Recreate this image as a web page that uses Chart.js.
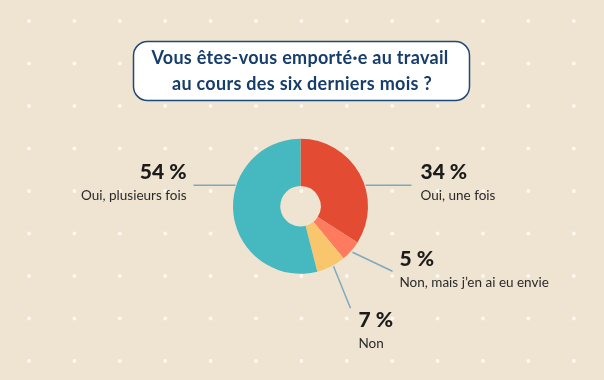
<!DOCTYPE html>
<html>
<head>
<meta charset="utf-8">
<script src="https://cdn.jsdelivr.net/npm/chart.js@4.4.1/dist/chart.umd.min.js"></script>
<style>
  html, body { margin: 0; padding: 0; background: #efe3d1; }
  #wrap { width: 604px; height: 380px; position: relative; }
</style>
</head>
<body>
<div id="wrap"><canvas id="chart" width="604" height="380"></canvas></div>
<script>
// data, clockwise from the top
const categories = ["Oui, une fois", "Non, mais j\u2019en ai eu envie", "Non", "Oui, plusieurs fois"];
const values = [34, 5, 7, 54];
const valueLabels = ["34 %", "5 %", "7 %", "54 %"];
const colors = ["#e34b33", "#ff7b5f", "#f9c66e", "#46b8bf"];
const titleLines = ["Vous \u00eates-vous emport\u00e9\u00b7e au travail", "au cours des six derniers mois ?"];

const FONT = "Lato, 'Noto Sans', sans-serif";

// background dots + title box, drawn before the doughnut
const backdrop = {
    id: 'backdrop',
    beforeDraw(chart) {
        const ctx = chart.ctx;
        ctx.save();
        ctx.fillStyle = '#efe3d1';
        ctx.fillRect(0, 0, chart.width, chart.height);
        ctx.fillStyle = '#fbf7f1';
        for (let i = 0; i < 13; i++) {
            for (let j = 0; j < 9; j++) {
                ctx.beginPath();
                ctx.arc(29 + i * 45.4, 21 + j * 42.5, 2, 0, Math.PI * 2);
                ctx.fill();
            }
        }
        // title box
        ctx.beginPath();
        ctx.roundRect(133.5, 41.5, 336, 59, 14);
        ctx.fillStyle = '#ffffff';
        ctx.fill();
        ctx.lineWidth = 1.5;
        ctx.strokeStyle = '#1d4a78';
        ctx.stroke();
        ctx.fillStyle = '#163d6b';
        ctx.font = 'bold 18px ' + FONT;
        ctx.letterSpacing = '0.3px';
        ctx.textAlign = 'center';
        ctx.textBaseline = 'middle';
        ctx.fillText(titleLines[0], 300, 58);
        ctx.fillText(titleLines[1], 302, 84);
        ctx.restore();
    }
};

// leader lines and labels, offsets relative to the doughnut centre
const callouts = {
    id: 'callouts',
    afterDraw(chart) {
        const ctx = chart.ctx;
        const arc = chart.getDatasetMeta(0).data[0];
        const cx = arc.x, cy = arc.y;
        const spots = [
            { line: [[65, -21], [111, -21]], x: 120, y: -34, align: 'left' },
            { line: [[52, 46], [92, 65]], x: 99, y: 53, align: 'left' },
            { line: [[33, 60], [50, 102]], x: 58, y: 114, align: 'left' },
            { line: [[-65, -21], [-107, -21]], x: -114, y: -34, align: 'right' }
        ];
        ctx.save();
        ctx.strokeStyle = '#7eaabc';
        ctx.lineWidth = 1.5;
        spots.forEach(function (s, i) {
            ctx.beginPath();
            ctx.moveTo(cx + s.line[0][0], cy + s.line[0][1]);
            ctx.lineTo(cx + s.line[1][0], cy + s.line[1][1]);
            ctx.stroke();
            ctx.textAlign = s.align;
            ctx.textBaseline = 'middle';
            ctx.fillStyle = '#1b1b1b';
            ctx.font = '900 21px ' + FONT;
            ctx.fillText(valueLabels[i], cx + s.x, cy + s.y);
            ctx.fillStyle = '#2a2a2a';
            ctx.font = '13.5px ' + FONT;
            ctx.fillText(categories[i], cx + s.x, cy + s.y + 23);
        });
        ctx.restore();
    }
};

new Chart(document.getElementById('chart'), {
    type: 'doughnut',
    data: {
        labels: categories,
        datasets: [{
            data: values,
            backgroundColor: colors,
            borderWidth: 0
        }]
    },
    options: {
        responsive: false,
        animation: false,
        cutout: '30%',
        layout: { padding: { left: 233, right: 236, top: 138.5, bottom: 106 } },
        plugins: {
            legend: { display: false },
            tooltip: { enabled: false }
        }
    },
    plugins: [backdrop, callouts]
});
</script>
</body>
</html>
